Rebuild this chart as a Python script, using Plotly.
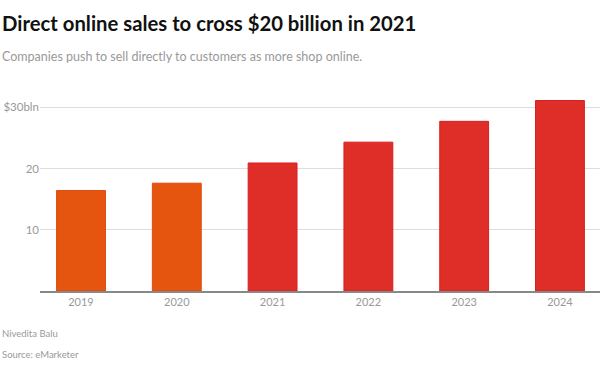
import plotly.graph_objects as go

years = ["2019", "2020", "2021", "2022", "2023", "2024"]
sales = [16.4, 17.6, 20.9, 24.3, 27.7, 31.1]
bar_colors = ["#E5550F", "#E5550F", "#DE2E27", "#DE2E27", "#DE2E27", "#DE2E27"]
line_colors = ["#E04A0C", "#E04A0C", "#D81F1F", "#D81F1F", "#D81F1F", "#D81F1F"]
ytick_vals = [10, 20, 30]
ytick_text = ["10", "20", "$30bln"]

FONT = "Lato, sans-serif"
W, H = 600, 373
L, R, T, B = 40, 0, 95, 82
pw, ph = W - L - R, H - T - B


def px(pix):
    return (pix - L) / pw


def py(pix):
    return (H - B - pix) / ph


fig = go.Figure()
fig.add_trace(go.Bar(
    x=list(range(len(years))), y=sales,
    marker=dict(color=bar_colors, line=dict(color=line_colors, width=1)),
    width=0.51,
))

fig.update_layout(
    width=W, height=H,
    margin=dict(l=L, r=R, t=T, b=B, autoexpand=False),
    paper_bgcolor="white", plot_bgcolor="white",
    showlegend=False,
    font=dict(family=FONT, color="#999999"),
    xaxis=dict(
        range=[-0.428, 5.418],
        tickvals=list(range(len(years))), ticktext=years,
        showgrid=False, zeroline=False,
        showline=True, linecolor="#888888", linewidth=1.5,
        ticks="", tickfont=dict(size=11, color="#999999"),
    ),
    yaxis=dict(
        range=[0, 32],
        tickvals=ytick_vals, ticktext=ytick_text,
        showgrid=True, gridcolor="#DDDDDD", gridwidth=1,
        zeroline=False, showline=False, ticks="",
        tickfont=dict(size=11.5, color="#999999"),
    ),
    annotations=[
        dict(text="<b>Direct online sales to cross $20 billion in 2021</b>",
             x=px(0), y=py(23), xref="paper", yref="paper",
             xanchor="left", yanchor="middle", showarrow=False,
             font=dict(family=FONT, size=20.3, color="#111111")),
        dict(text="Companies push to sell directly to customers as more shop online.",
             x=px(0), y=py(57), xref="paper", yref="paper",
             xanchor="left", yanchor="middle", showarrow=False,
             font=dict(family=FONT, size=12.5, color="#999999")),
        dict(text="Nivedita Balu",
             x=px(0), y=py(333), xref="paper", yref="paper",
             xanchor="left", yanchor="middle", showarrow=False,
             font=dict(family=FONT, size=9.5, color="#999999")),
        dict(text="Source: eMarketer",
             x=px(0), y=py(354), xref="paper", yref="paper",
             xanchor="left", yanchor="middle", showarrow=False,
             font=dict(family=FONT, size=9.5, color="#999999")),
    ],
)

fig.write_html("out.html", config={"displayModeBar": False},
               post_script="document.body.style.margin='0';")
